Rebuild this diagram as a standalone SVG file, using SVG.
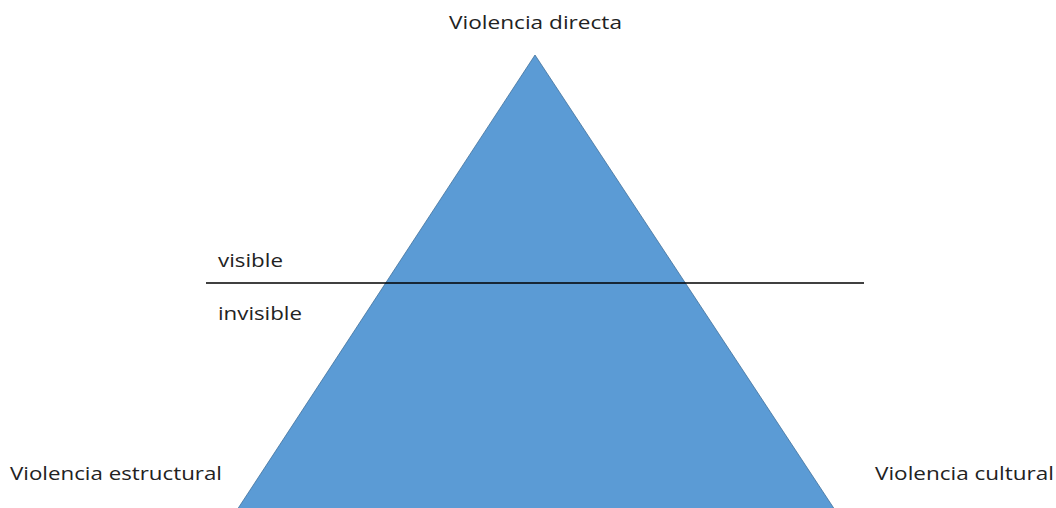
<svg xmlns="http://www.w3.org/2000/svg" width="1056" height="508" viewBox="0 0 1056 508">
<style>
.t{font-family:"Open Sans","Liberation Sans",sans-serif;font-size:17.5px;fill:#222}
</style>
<rect width="1056" height="508" fill="#fff"/>
<g id="triangle"><polygon points="535,55 237,510 835,510" fill="#5B9BD5" stroke="#41719C" stroke-width="0.8"/></g>
<g id="connectors"><line x1="206" y1="283" x2="864" y2="283" stroke="#000" stroke-width="1.5"/></g>
<g id="top"><text class="t" x="449" y="29" textLength="173" lengthAdjust="spacingAndGlyphs">Violencia directa</text></g>
<g id="visible"><text class="t" x="218" y="267" textLength="65" lengthAdjust="spacingAndGlyphs">visible</text></g>
<g id="invisible"><text class="t" x="218" y="320" textLength="84" lengthAdjust="spacingAndGlyphs">invisible</text></g>
<g id="estructural"><text class="t" x="10" y="480" textLength="212" lengthAdjust="spacingAndGlyphs">Violencia estructural</text></g>
<g id="cultural"><text class="t" x="875" y="480" textLength="179" lengthAdjust="spacingAndGlyphs">Violencia cultural</text></g>
</svg>
